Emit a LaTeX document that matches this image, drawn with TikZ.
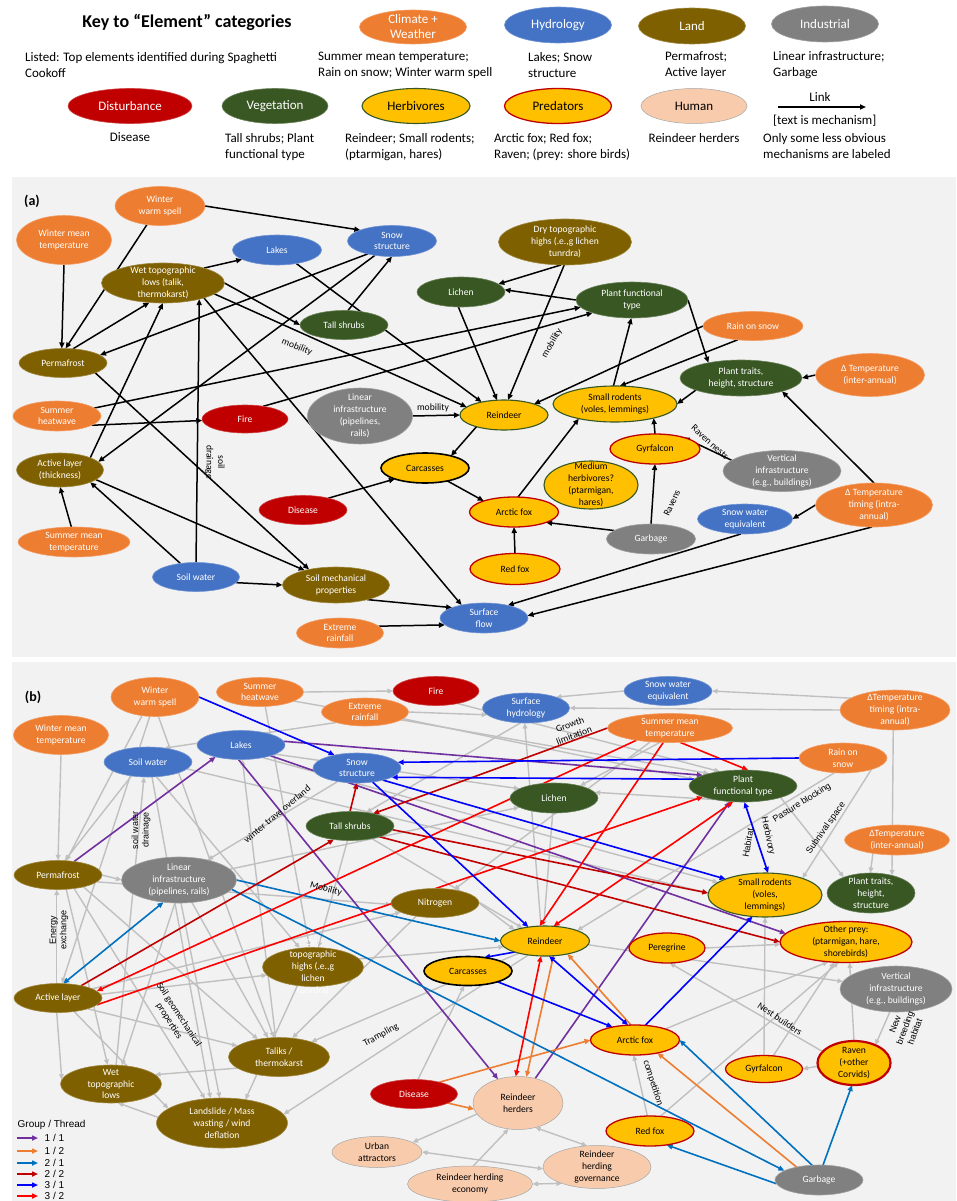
\documentclass[tikz,border=0pt]{standalone}
\usepackage{fontspec}
\setmainfont{Carlito}
\newfontfamily\arialf{Liberation Sans}
\usetikzlibrary{shapes.geometric,arrows.meta}
\pgfdeclarelayer{bgl}
\pgfdeclarelayer{edl}
\pgfsetlayers{bgl,edl,main}
\definecolor{cClim}{HTML}{ED7D31}
\definecolor{cHyd}{HTML}{4472C4}
\definecolor{cLand}{HTML}{7F6000}
\definecolor{cInd}{HTML}{808080}
\definecolor{cDist}{HTML}{C00000}
\definecolor{cVeg}{HTML}{385723}
\definecolor{cYel}{HTML}{FFC000}
\definecolor{cHum}{HTML}{F8CBAD}
\definecolor{cPanel}{HTML}{F2F2F2}
\definecolor{cGray}{HTML}{C0C0C0}
\definecolor{tPur}{HTML}{7030A0}
\definecolor{tOra}{HTML}{ED7D31}
\definecolor{tBlu}{HTML}{0070C0}
\definecolor{tDred}{HTML}{C00000}
\definecolor{tBlue}{HTML}{0000FF}
\definecolor{tRed}{HTML}{FF0000}
\newcommand\ellnode[7]{%
  \node[#6, minimum width=#4pt, minimum height=#5pt] (#1) at (#2,#3) {};
  \node[#6 text] (#1-t) at (#1.center) {#7};}
\tikzset{
  el/.style={ellipse, inner sep=0pt, outer sep=0pt, line width=0.6pt},
  ntext/.style={align=center, font=\fontsize{9.6}{11.8}\selectfont, inner sep=0pt},
  clim/.style={el, fill=cClim, draw=cClim!75!white},
  clim text/.style={ntext, text=white},
  hyd/.style={el, fill=cHyd, draw=cHyd!75!white},
  hyd text/.style={ntext, text=white},
  land/.style={el, fill=cLand, draw=cLand!75!white},
  land text/.style={ntext, text=white},
  ind/.style={el, fill=cInd, draw=cInd!75!white},
  ind text/.style={ntext, text=white},
  dist/.style={el, fill=cDist, draw=cDist!75!white},
  dist text/.style={ntext, text=white},
  veg/.style={el, fill=cVeg, draw=cVeg!75!white},
  veg text/.style={ntext, text=white},
  herb/.style={el, fill=cYel, draw=cVeg, line width=1.1pt},
  herb text/.style={ntext, text=black},
  pred/.style={el, fill=cYel, draw=cDist, line width=1.3pt},
  pred text/.style={ntext, text=black},
  predk/.style={el, fill=cYel, draw=cDist, line width=2.2pt},
  predk text/.style={ntext, text=black},
  carc/.style={el, fill=cYel, draw=black, line width=1.6pt},
  carc text/.style={ntext, text=black},
  hum/.style={el, fill=cHum, draw=gray!70, line width=0.5pt},
  hum text/.style={ntext, text=black},
  arr/.style={-{Triangle[length=6pt,width=5pt]}, line width=1.5pt, black},
  gar/.style={-{Triangle[length=5.5pt,width=4.6pt]}, line width=1.4pt, cGray},
  dgar/.style={{Triangle[length=5.5pt,width=4.6pt]}-{Triangle[length=5.5pt,width=4.6pt]}, line width=1.4pt, cGray},
  car/.style={-{Triangle[length=6pt,width=5pt]}, line width=1.6pt},
  dcar/.style={{Triangle[length=6pt,width=5pt]}-{Triangle[length=6pt,width=5pt]}, line width=1.6pt},
  mlab/.style={font=\fontsize{9.6}{11.5}\selectfont, inner sep=0.5pt, align=center},
  alab/.style={font=\arialf\fontsize{9}{10.5}\selectfont, inner sep=0.5pt, align=center},
  ktxt/.style={font=\fontsize{13}{16}\selectfont, align=left, inner sep=0pt},
  ktc/.style={font=\fontsize{13}{15}\selectfont, align=center, inner sep=0pt},
}
\begin{document}
\begin{tikzpicture}[x=1pt,y=-1pt]
\useasboundingbox (0,0) rectangle (956,1201);
\begin{pgfonlayer}{bgl}
\fill[white] (0,0) rectangle (956,1201);
\fill[cPanel] (12,177) rectangle (956,657);
\fill[cPanel] (12,662) rectangle (956,1201);
\end{pgfonlayer}

% ---------------- KEY ----------------
\node[font=\bfseries\fontsize{18}{21}\selectfont, inner sep=0pt] (ktitle) at (187,22) {Key to “Element” categories};
\node[ktxt, anchor=west] (klisted) at (25,65) {Listed: Top elements identified during Spaghetti\\Cookoff};
\node[clim, minimum width=107pt, minimum height=34pt] (kClim) at (413,27) {};
\node[ktc, text=white] (kClim-t) at (kClim.center) {Climate +\\Weather};
\node[ktxt, anchor=west] (kClimD) at (318,65) {Summer mean temperature;\\Rain on snow; Winter warm spell};
\node[hyd, minimum width=107pt, minimum height=36pt] (kHyd) at (558,25) {};
\node[ktc, text=white] (kHyd-t) at (kHyd.center) {Hydrology};
\node[ktxt, anchor=west] (kHydD) at (528,65) {Lakes; Snow\\structure};
\node[land, minimum width=107pt, minimum height=36pt] (kLand) at (692,26) {};
\node[ktc, text=white] (kLand-t) at (kLand.center) {Land};
\node[ktxt, anchor=west] (kLandD) at (665,65) {Permafrost;\\Active layer};
\node[ind, minimum width=107pt, minimum height=36pt] (kInd) at (825,24) {};
\node[ktc, text=white] (kInd-t) at (kInd.center) {Industrial};
\node[ktxt, anchor=west] (kIndD) at (773,65) {Linear infrastructure;\\Garbage};
\node[dist, minimum width=124pt, minimum height=35pt] (kDist) at (130,106) {};
\node[ktc, text=white] (kDist-t) at (kDist.center) {Disturbance};
\node[ktc] (kDistD) at (130,137) {Disease};
\node[veg, minimum width=106pt, minimum height=35pt] (kVeg) at (275,106) {};
\node[ktc, text=white] (kVeg-t) at (kVeg.center) {Vegetation};
\node[ktxt, anchor=west] (kVegD) at (225,147) {Tall shrubs; Plant\\functional type};
\node[herb, minimum width=108pt, minimum height=35pt] (kHerb) at (416,106) {};
\node[ktc] (kHerb-t) at (kHerb.center) {Herbivores};
\node[ktxt, anchor=west] (kHerbD) at (345,147) {Reindeer; Small rodents;\\(ptarmigan, hares)};
\node[pred, minimum width=107pt, minimum height=35pt] (kPred) at (558,106) {};
\node[ktc] (kPred-t) at (kPred.center) {Predators};
\node[ktxt, anchor=west] (kPredD) at (494,147) {Arctic fox; Red fox;\\Raven; (prey: shore birds)};
\node[hum, minimum width=106pt, minimum height=35pt] (kHum) at (694,106) {};
\node[ktc] (kHum-t) at (kHum.center) {Human};
\node[ktc] (kHumD) at (694,138) {Reindeer herders};
\node[ktc] (kLink) at (820,97) {Link};
\coordinate (klinks) at (778,107);
\coordinate (klinke) at (866,107);
\draw[arr] (klinks) -- (klinke);
\node[ktxt, anchor=west] (kLinkD) at (773,121) {[text is mechanism]};
\node[ktxt, anchor=west] (kLinkD2) at (763,146) {Only some less obvious\\mechanisms are labeled};

% ---------------- PANEL (a) ----------------
\node[font=\bfseries\fontsize{14}{16}\selectfont, inner sep=0pt] (labA) at (32,201) {(a)};
\ellnode{aWWS}{160}{206}{90}{39}{clim}{Winter\\warm spell}
\ellnode{aWMT}{64}{240}{95}{49}{clim}{Winter mean\\temperature}
\ellnode{aLakes}{277}{250}{89}{30}{hyd}{Lakes}
\ellnode{aSnow}{392}{241}{89}{31}{hyd}{Snow\\structure}
\ellnode{aWTL}{163}{283}{123}{40}{land}{Wet topographic\\lows (talik,\\thermokarst)}
\ellnode{aTall}{344}{325}{88}{29}{veg}{Tall shrubs}
\ellnode{aLichen}{461}{292}{88}{30}{veg}{Lichen}
\ellnode{aDTH}{565}{242}{133}{46}{land}{Dry topographic\\highs (.e.,g lichen\\tunrdra)}
\ellnode{aPFT}{632}{300}{112}{36}{veg}{Plant functional\\type}
\ellnode{aRoS}{753}{326}{100}{29}{clim}{Rain on snow}
\ellnode{aPT}{741}{378}{122}{36}{veg}{Plant traits,\\height, structure}
\ellnode{aDTI}{870}{375}{109}{43}{clim}{Δ Temperature\\(inter-annual)}
\ellnode{aPerm}{63}{363}{88}{29}{land}{Permafrost}
\ellnode{aSHW}{57}{416}{88}{30}{clim}{Summer\\heatwave}
\ellnode{aFire}{245}{419}{86}{28}{dist}{Fire}
\ellnode{aLI}{360}{416}{105}{56}{ind}{Linear\\infrastructure\\(pipelines,\\rails)}
\ellnode{aRein}{504}{415}{88}{30}{herb}{Reindeer}
\ellnode{aRod}{615}{404}{124}{36}{herb}{Small rodents\\(voles, lemmings)}
\ellnode{aCarc}{425}{468}{88}{30}{carc}{Carcasses}
\ellnode{aGyr}{655}{449}{90}{30}{pred}{Gyrfalcon}
\ellnode{aMed}{591}{485}{94}{48}{herb}{Medium\\herbivores?\\(ptarmigan,\\hares)}
\ellnode{aVI}{782}{471}{118}{41}{ind}{Vertical\\infrastructure\\(e.g., buildings)}
\ellnode{aDTT}{874}{505}{117}{44}{clim}{Δ Temperature\\timing (intra-\\annual)}
\ellnode{aSWE}{745}{519}{95}{30}{hyd}{Snow water\\equivalent}
\ellnode{aAL}{60}{470}{87}{34}{land}{Active layer\\(thickness)}
\ellnode{aDis}{303}{510}{88}{29}{dist}{Disease}
\ellnode{aAF}{514}{512}{89}{30}{pred}{Arctic fox}
\ellnode{aGarb}{651}{539}{89}{30}{ind}{Garbage}
\ellnode{aSMT}{74}{542}{112}{30}{clim}{Summer mean\\temperature}
\ellnode{aRF}{515}{569}{90}{31}{pred}{Red fox}
\ellnode{aSW}{196}{577}{87}{29}{hyd}{Soil water}
\ellnode{aSMP}{336}{585}{107}{36}{land}{Soil mechanical\\properties}
\ellnode{aSF}{484}{618}{88}{30}{hyd}{Surface\\flow}
\ellnode{aER}{340}{633}{87}{30}{clim}{Extreme\\rainfall}

\begin{pgfonlayer}{edl}
\draw[arr] (aWWS.east) -- (aSnow.161);
\draw[arr] (aWWS.235) -- (aPerm.80);
\draw[arr] (aWMT.south) -- (aPerm.95);
\draw[arr] (aPerm.55) -- (aWTL.235);
\draw[arr] (aSnow.208) -- (aPerm.12);
\draw[arr] (aWTL.20) -- (aLakes.195);
\draw[arr] (aWTL.east) -- (aTall.west);
\draw[arr] (aTall.75) -- (aSnow.270);
\draw[arr] (aLakes.325) -- (aRein.150);
\draw[arr] (aWTL.348) -- (aRein.168);
\draw[arr] (aSnow.220) -- (aAL.12);
\draw[arr] (aSMT.100) -- (aAL.270);
\draw[arr] (aSHW.345) -- (aFire.182);
\draw[arr] (aSHW.12) -- (aPFT.188);
\draw[arr] (aFire.35) -- (aPFT.198);
\draw[arr] (aLichen.260) -- (aRein.115);
\draw[arr] (aDTH.260) -- (aLichen.12);
\draw[arr] (aDTH.268) -- (aRein.75);
\draw[arr] (aRod.95) -- (aPFT.268);
\draw[arr] (aPFT.east) -- (aPT.155);
\draw[arr] (aDTI.west) -- (aPT.east);
\draw[arr] (aPT.195) -- (aRod.east);
\draw[arr] (aDTT.north) -- (aPT.342);
\draw[arr] (aDTT.west) -- (aSWE.east);
\draw[arr] (aSWE.255) -- (aSF.28);
\draw[arr] (aDTT.265) -- (aSF.3);
\draw[arr] (aVI.168) -- (aGyr.22);
\draw[arr] (aGarb.north) -- (aGyr.south);
\draw[arr] (aGyr.north) -- (aRod.340);
\draw[arr] (aGarb.167) -- (aAF.342);
\draw[arr] (aRF.north) -- (aAF.south);
\draw[arr] (aAF.75) -- (aRod.202);
\draw[arr] (aRein.203) -- (aCarc.25);
\draw[arr] (aCarc.330) -- (aAF.160);
\draw[arr] (aDis.25) -- (aCarc.200);
\draw[arr] (aSW.352) -- (aSMP.west);
\draw[arr] (aSMP.335) -- (aSF.162);
\draw[arr] (aER.10) -- (aSF.190);
\draw[arr] (aLI.east) -- (aRein.west);
\draw[arr] (aSW.north) -- (aWTL.336);
\draw[arr] (aSW.139) -- (aAL.338);
\draw[arr] (aAL.345) -- (aSMP.155);
\draw[arr] (aAL.22) -- (aWTL.south);
\draw[arr] (aPerm.343) -- (aSMP.150);
\draw[arr] (aWTL.340) -- (aSF.150);
\draw[arr] (aRoS.west) -- (aRein.20);
\draw[arr] (aRoS.222) -- (aRod.75);
\draw[arr] (aPFT.west) -- (aLichen.3);
\end{pgfonlayer}

\node[mlab, rotate=-22] (labA1) at (297,347) {mobility};
\node[mlab] (labA2) at (433,408) {mobility};
\node[mlab, rotate=60] (labA3) at (552,343) {mobility};
\node[mlab, rotate=-90] (labA4) at (215,462) {soil\\drainage};
\node[mlab, rotate=-42] (labA5) at (710,442) {Raven nests};
\node[mlab, rotate=65] (labA6) at (672,503) {Ravens};

% ---------------- PANEL (b) ----------------
\node[font=\bfseries\fontsize{14}{16}\selectfont, inner sep=0pt] (labB) at (33,697) {(b)};
\ellnode{bWWS}{155}{697}{88}{39}{clim}{Winter\\warm spell}
\ellnode{bWMT}{61}{735}{95}{39}{clim}{Winter mean\\temperature}
\ellnode{bSHW}{260}{692}{87}{29}{clim}{Summer\\heatwave}
\ellnode{bFire}{436}{691}{86}{29}{dist}{Fire}
\ellnode{bER}{365}{712}{87}{28}{clim}{Extreme\\rainfall}
\ellnode{bSurf}{526}{708}{87}{30}{hyd}{Surface\\hydrology}
\ellnode{bSWE}{668}{691}{88}{29}{hyd}{Snow water\\equivalent}
\ellnode{bDTT}{895}{710}{110}{40}{clim}{ΔTemperature\\timing (intra-\\annual)}
\ellnode{bLakes}{241}{745}{88}{29}{hyd}{Lakes}
\ellnode{bSW}{148}{762}{88}{30}{hyd}{Soil water}
\ellnode{bSnow}{357}{768}{88}{30}{hyd}{Snow\\structure}
\ellnode{bSMT}{670}{728}{125}{29}{clim}{Summer mean\\temperature}
\ellnode{bRoS}{843}{758}{88}{30}{clim}{Rain on\\snow}
\ellnode{bPFT}{743}{786}{108}{32}{veg}{Plant\\functional type}
\ellnode{bLichen}{554}{798}{88}{30}{veg}{Lichen}
\ellnode{bTall}{350}{826}{88}{29}{veg}{Tall shrubs}
\ellnode{bDTI}{897}{840}{105}{30}{clim}{ΔTemperature\\(inter-annual)}
\ellnode{bPerm}{58}{875}{88}{29}{land}{Permafrost}
\ellnode{bLI}{179}{880}{115}{46}{ind}{Linear\\infrastructure\\(pipelines, rails)}
\ellnode{bNit}{435}{903}{88}{29}{land}{Nitrogen}
\ellnode{bRod}{765}{895}{114}{44}{herb}{Small rodents\\(voles,\\lemmings)}
\ellnode{bPT}{871}{893}{88}{40}{veg}{Plant traits,\\height,\\structure}
\ellnode{bRein}{545}{941}{89}{30}{herb}{Reindeer}
\ellnode{bPer}{667}{948}{76}{30}{pred}{Peregrine}
\ellnode{bOP}{846}{942}{132}{41}{pred}{Other prey:\\(ptarmigan, hare,\\shorebirds)}
\ellnode{bDTH}{313}{967}{101}{39}{land}{Dry\\topographic\\highs (.e.,g\\lichen\\tunrdra)}
\ellnode{bCarc}{468}{971}{88}{29}{carc}{Carcasses}
\ellnode{bVI}{896}{989}{112}{46}{ind}{Vertical\\infrastructure\\(e.g., buildings)}
\ellnode{bAL}{58}{998}{88}{29}{land}{Active layer}
\ellnode{bAF}{635}{1040}{89}{30}{pred}{Arctic fox}
\ellnode{bTal}{279}{1057}{101}{39}{land}{Taliks /\\thermokarst}
\ellnode{bGyr}{764}{1069}{77}{27}{pred}{Gyrfalcon}
\ellnode{bRav}{854}{1063}{73}{44}{predk}{Raven\\(+other\\Corvids)}
\ellnode{bWTL}{111}{1084}{101}{38}{land}{Wet\\topographic\\lows}
\ellnode{bDis}{414}{1094}{87}{29}{dist}{Disease}
\ellnode{bRH}{518}{1103}{90}{53}{hum}{Reindeer\\herders}
\ellnode{bLS}{222}{1123}{131}{50}{land}{Landslide / Mass\\wasting / wind\\deflation}
\ellnode{bRF}{650}{1131}{88}{30}{pred}{Red fox}
\ellnode{bUrb}{377}{1152}{90}{31}{hum}{Urban\\attractors}
\ellnode{bGov}{597}{1167}{108}{43}{hum}{Reindeer\\herding\\governance}
\ellnode{bEco}{470}{1184}{125}{36}{hum}{Reindeer herding\\economy}
\ellnode{bGarb}{819}{1180}{88}{30}{ind}{Garbage}

\begin{pgfonlayer}{edl}
% gray links
\draw[gar] (bSHW.east) -- (bFire.west);
\draw[gar] (bER.east) -- (bSurf.190);
\draw[gar] (bSHW.345) -- (bPFT.160);
\draw[gar] (bSHW.290) -- (bDTH.100);
\draw[gar] (bER.200) -- (bSW.40);
\draw[gar] (bER.350) -- (bPFT.172);
\draw[gar] (bFire.330) -- (bPFT.148);
\draw[gar] (bWWS.255) -- (bAL.75);
\draw[gar] (bWWS.235) -- (bPerm.60);
\draw[gar] (bWMT.south) -- (bPerm.north);
\draw[gar] (bSWE.west) -- (bSurf.20);
\draw[gar] (bDTT.165) -- (bSWE.east);
\draw[gar] (bDTT.west) -- (bSurf.east);
\draw[gar] (bDTT.265) -- (bPT.40);
\draw[gar] (bDTI.209) -- (bPT.92);
\draw[gar] (bRoS.338) -- (bRod.24);
\draw[gar] (bPFT.343) -- (bPT.150);
\draw[gar] (bRoS.240) -- (bRein.18);
\draw[gar] (bLichen.265) -- (bRein.95);
\draw[gar] (bPerm.east) -- (bLI.west);
\draw[gar] (bAL.95) -- (bPerm.265);
\draw[gar] (bAL.265) -- (bWTL.175);
\draw[gar] (bPerm.350) -- (bNit.182);
\draw[gar] (bPerm.320) -- (bLS.125);
\draw[gar] (bPerm.335) -- (bTal.140);
\draw[gar] (bAL.320) -- (bLS.165);
\draw[gar] (bLI.275) -- (bLS.95);
\draw[gar] (bTal.195) -- (bWTL.12);
\draw[gar] (bLS.175) -- (bWTL.290);
\draw[gar] (bRein.205) -- (bTal.25);
\draw[gar] (bRein.220) -- (bLS.8);
\draw[gar] (bDis.75) -- (bCarc.255);
\draw[gar] (bRH.195) -- (bUrb.15);
\draw[dgar] (bUrb.east) -- (bGov.182);
\draw[dgar] (bEco.east) -- (bGov.205);
\draw[dgar] (bRH.305) -- (bGov.115);
\draw[gar] (bEco.80) -- (bRH.250);
\draw[gar] (bRF.100) -- (bAF.265);
\draw[gar] (bRF.55) -- (bOP.250);
\draw[gar] (bAF.20) -- (bOP.228);
\draw[gar] (bGyr.north) -- (bRod.270);
\draw[gar] (bGyr.55) -- (bOP.240);
\draw[gar] (bRav.185) -- (bGyr.east);
\draw[gar] (bRav.north) -- (bOP.280);
\draw[gar] (bVI.255) -- (bRav.40);
\draw[gar] (bRav.160) -- (bPer.280);
\draw[gar] (bPer.east) -- (bOP.182);
\draw[gar] (bRein.355) -- (bVI.172);
\draw[gar] (bSnow.215) -- (bLI.35);
\draw[gar] (bTal.100) -- (bLakes.275);
\draw[gar] (bWTL.75) -- (bSW.255);
\draw[gar] (bSW.285) -- (bLS.115);
\draw[gar] (bSW.220) -- (bPerm.65);
\draw[gar] (bLakes.345) -- (bLichen.165);
\draw[gar] (bSMT.235) -- (bLichen.25);
\draw[gar] (bSMT.215) -- (bNit.35);
\draw[gar] (bLI.12) -- (bLichen.195);
\draw[gar] (bTall.260) -- (bDTH.75);
\draw[gar] (bNit.215) -- (bTal.55);
\draw[gar] (bDTH.10) -- (bRein.188);
\draw[gar] (bLI.300) -- (bTal.120);
\draw[gar] (bAL.15) -- (bNit.195);
\draw[gar] (bSW.350) -- (bRod.178);
\draw[gar] (bLakes.330) -- (bRod.165);
\draw[gar] (bNit.east) -- (bRein.160);
\draw[gar] (bTall.330) -- (bRein.150);
\draw[gar] (bPerm.300) -- (bWTL.100);
\draw[gar] (bLI.260) -- (bWTL.60);
\draw[gar] (bAL.340) -- (bTal.165);
\draw[gar] (bDTH.230) -- (bLS.45);
\draw[gar] (bSW.300) -- (bDTH.125);
\draw[gar] (bWWS.280) -- (bTal.105);
\draw[gar] (bSurf.250) -- (bTall.40);
\draw[gar] (bRein.105) -- (bSurf.265);
\draw[gar] (bPFT.205) -- (bLichen.8);
\draw[gar] (bAL.5) -- (bDTH.190);
% coloured links
\draw[car, tPur] (bPerm.40) -- (bLakes.205);
\draw[car, tPur] (bLakes.260) -- (bRH.130);
\draw[car, tPur] (bLakes.340) -- (bOP.172);
\draw[car, tPur] (bLakes.5) -- (bPFT.165);
\draw[car, tPur] (bRH.55) -- (bPFT.230);
\draw[car, tOra] (bDis.25) -- (bAF.west);
\draw[car, tOra] (bDis.345) -- (bRH.188);
\draw[car, tOra] (bRein.300) -- (bRH.72);
\draw[car, tOra] (bAF.105) -- (bRein.330);
\draw[car, tOra] (bGarb.150) -- (bAF.330);
\draw[dcar, tBlu] (bAL.70) -- (bLI.235);
\draw[car, tBlu] (bLI.east) -- (bRein.west);
\draw[car, tBlu] (bLI.350) -- (bGarb.165);
\draw[car, tBlu] (bGarb.185) -- (bRF.320);
\draw[car, tBlu] (bGarb.115) -- (bAF.east);
\draw[car, tBlu] (bGarb.75) -- (bRav.265);
\draw[car, tDred] (bAL.28) -- (bTall.220);
\draw[car, tDred] (bTall.north) -- (bSnow.south);
\draw[car, tDred] (bSMT.west) -- (bTall.28);
\draw[car, tDred] (bTall.355) -- (bRod.178);
\draw[car, tDred] (bTall.340) -- (bOP.west);
\draw[car, tRed] (bSMT.200) -- (bAL.10);
\draw[car, tRed] (bAL.350) -- (bPFT.195);
\draw[car, tRed] (bSMT.245) -- (bRein.110);
\draw[dcar, tRed] (bRein.60) -- (bPFT.238);
\draw[car, tRed] (bSMT.305) -- (bPFT.72);
\draw[dcar, tRed] (bRein.255) -- (bRH.95);
\draw[car, tBlue] (bWWS.east) -- (bSnow.150);
\draw[car, tBlue] (bRoS.west) -- (bSnow.8);
\draw[car, tBlue] (bPFT.172) -- (bSnow.345);
\draw[car, tBlue] (bSnow.318) -- (bRein.140);
\draw[car, tBlue] (bSnow.335) -- (bRod.158);
\draw[dcar, tBlue] (bPFT.275) -- (bRod.82);
\draw[car, tBlue] (bAF.55) -- (bRod.240);
\draw[dcar, tBlue] (bRein.285) -- (bAF.115);
\draw[car, tBlue] (bCarc.340) -- (bAF.150);
\draw[car, tBlue] (bRein.200) -- (bCarc.40);
\end{pgfonlayer}

\node[mlab, rotate=40] (lb1) at (277,814) {winter trave overland};
\node[alab, rotate=90] (lb2) at (141,830) {soil water\\drainage};
\node[alab, rotate=90] (lb3) at (59,930) {Energy\\exchange};
\node[mlab, rotate=-15] (lb4) at (326,889) {Mobility};
\node[mlab, rotate=-57] (lb5) at (174,1018) {Soil geomechanical\\properties};
\node[mlab, rotate=29] (lb6) at (381,1035) {Trampling};
\node[mlab, rotate=21] (lb7) at (572,730) {Growth\\limitation};
\node[alab, rotate=32] (lb8) at (802,803) {Pasture blocking};
\node[alab, rotate=55] (lb9) at (826,828) {Subnival space};
\node[alab, rotate=80] (lb10) at (748,843) {Habitat};
\node[alab, rotate=-78] (lb11) at (768,836) {Herbivory};
\node[mlab, rotate=-34] (lb12) at (780,1019) {Nest builders};
\node[mlab, rotate=-72] (lb13) at (653,1083) {competition};
\node[alab, rotate=70] (lb14) at (905,1028) {New\\breeding\\habitat};

% legend
\node[alab, anchor=west, font=\arialf\fontsize{10}{12}\selectfont] (lg) at (17,1125) {Group / Thread};
\coordinate (lgs1) at (17,1138); \coordinate (lge1) at (38,1138);
\coordinate (lgs2) at (17,1151); \coordinate (lge2) at (38,1151);
\coordinate (lgs3) at (17,1163); \coordinate (lge3) at (38,1163);
\coordinate (lgs4) at (17,1174); \coordinate (lge4) at (38,1174);
\coordinate (lgs5) at (17,1185); \coordinate (lge5) at (38,1185);
\coordinate (lgs6) at (17,1196); \coordinate (lge6) at (38,1196);
\draw[car, tPur] (lgs1) -- (lge1);
\draw[car, tOra] (lgs2) -- (lge2);
\draw[car, tBlu] (lgs3) -- (lge3);
\draw[car, tDred] (lgs4) -- (lge4);
\draw[car, tBlue] (lgs5) -- (lge5);
\draw[car, tRed] (lgs6) -- (lge6);
\node[alab, anchor=west, font=\arialf\fontsize{10}{12}\selectfont] (lgt1) at (44,1138) {1 / 1};
\node[alab, anchor=west, font=\arialf\fontsize{10}{12}\selectfont] (lgt2) at (44,1151) {1 / 2};
\node[alab, anchor=west, font=\arialf\fontsize{10}{12}\selectfont] (lgt3) at (44,1163) {2 / 1};
\node[alab, anchor=west, font=\arialf\fontsize{10}{12}\selectfont] (lgt4) at (44,1174) {2 / 2};
\node[alab, anchor=west, font=\arialf\fontsize{10}{12}\selectfont] (lgt5) at (44,1185) {3 / 1};
\node[alab, anchor=west, font=\arialf\fontsize{10}{12}\selectfont] (lgt6) at (44,1196) {3 / 2};
\end{tikzpicture}
\end{document}
